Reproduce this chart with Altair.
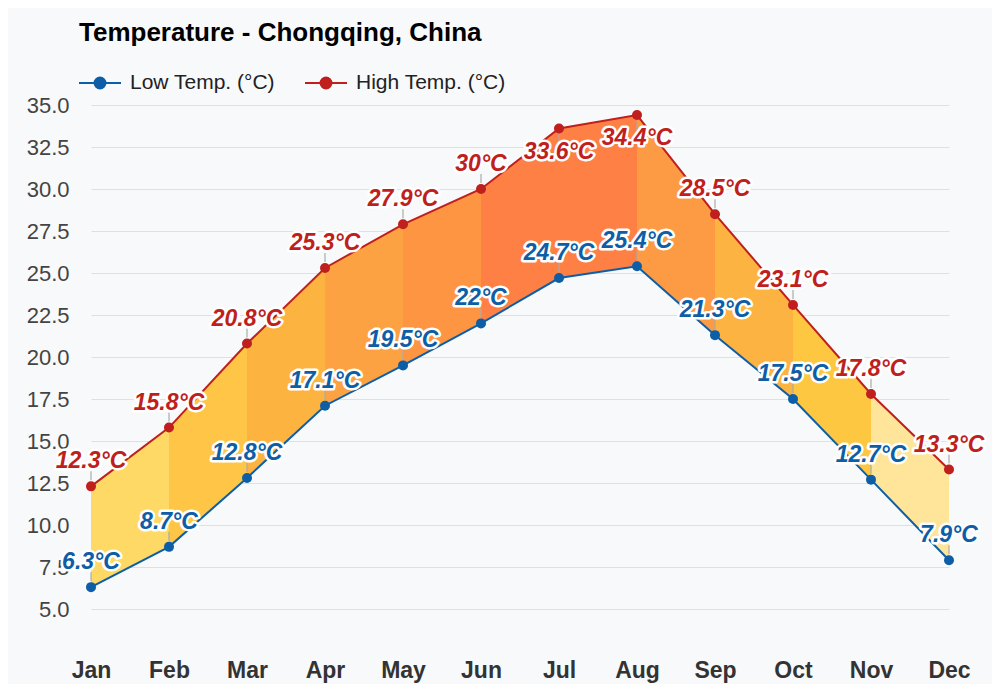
import altair as alt
import pandas as pd

months = ["Jan", "Feb", "Mar", "Apr", "May", "Jun", "Jul", "Aug", "Sep", "Oct", "Nov", "Dec"]
low_temp = [6.3, 8.7, 12.8, 17.1, 19.5, 22.0, 24.7, 25.4, 21.3, 17.5, 12.7, 7.9]
high_temp = [12.3, 15.8, 20.8, 25.3, 27.9, 30.0, 33.6, 34.4, 28.5, 23.1, 17.8, 13.3]
seg_colors = ["#ffd966", "#fec546", "#fdb340", "#fda242", "#fe9543", "#fe8045",
              "#fe8045", "#fd9a44", "#fdb341", "#fec742", "#fee59a"]
y_ticks = [5.0, 7.5, 10.0, 12.5, 15.0, 17.5, 20.0, 22.5, 25.0, 27.5, 30.0, 32.5, 35.0]

LOW_NAME = "Low Temp. (°C)"
HIGH_NAME = "High Temp. (°C)"
LOW_COLOR = "#0d5ea6"
HIGH_COLOR = "#bf1f1d"
FONT = "Liberation Sans"

# long table of both series
rows = []
for m, lo, hi in zip(months, low_temp, high_temp):
    rows.append({"month": m, "value": lo, "series": LOW_NAME, "label": f"{lo:g}°C"})
    rows.append({"month": m, "value": hi, "series": HIGH_NAME, "label": f"{hi:g}°C"})
long_df = pd.DataFrame(rows)

# segments of the band between lines
seg_rows = []
for i in range(len(months) - 1):
    for j in (i, i + 1):
        seg_rows.append({"month": months[j], "high": high_temp[j], "low": low_temp[j],
                         "seg": i, "color": seg_colors[i]})
seg_df = pd.DataFrame(seg_rows)

x_enc = alt.X("month:O", sort=months, scale=alt.Scale(type="point", padding=0),
              axis=alt.Axis(title=None, labelAngle=0, labelFontSize=23, labelFontWeight="bold",
                            labelColor="#333333", labelPadding=50, ticks=False, domain=False,
                            grid=False, labelFont=FONT))
y_scale = alt.Scale(domain=[5, 35], nice=False, zero=False)
color_scale = alt.Scale(domain=[LOW_NAME, HIGH_NAME], range=[LOW_COLOR, HIGH_COLOR])

band = alt.Chart(seg_df).mark_area(opacity=1).encode(
    x=x_enc,
    y=alt.Y("high:Q", scale=y_scale,
            axis=alt.Axis(title=None, values=y_ticks, format=".1f", labelFontSize=22,
                          labelColor="#444444", labelPadding=22, ticks=False, domain=False,
                          gridColor="#dde1e6", gridWidth=1, labelFont=FONT)),
    y2="low:Q",
    detail="seg:N",
    color=alt.Color("color:N", scale=None),
)

legend = alt.Legend(
    title=None, orient="none", direction="horizontal", legendX=-13, legendY=-44,
    symbolType="M-1,0H1M-0.26,0A0.26,0.26 0 1 1 0.26,0A0.26,0.26 0 1 1 -0.26,0Z",
    symbolSize=1764, symbolStrokeWidth=2, labelFontSize=21, labelColor="#222222",
    labelFont=FONT, labelOffset=8, columnPadding=26, symbolOpacity=1,
)

lines = alt.Chart(long_df).mark_line(strokeWidth=2).encode(
    x=x_enc,
    y=alt.Y("value:Q", scale=y_scale),
    color=alt.Color("series:N", scale=color_scale, legend=legend),
    detail="series:N",
)

points = alt.Chart(long_df).mark_circle(size=100, opacity=1).encode(
    x=x_enc,
    y=alt.Y("value:Q", scale=y_scale),
    color=alt.Color("series:N", scale=color_scale, legend=legend),
)

above = alt.datum.value <= 33
below = alt.datum.value > 33

ticks_up = alt.Chart(long_df).transform_filter(above).mark_rule(
    color="#aaaaaa", strokeWidth=1.2, yOffset=-6, y2Offset=-15).encode(
    x=x_enc, y=alt.Y("value:Q", scale=y_scale), y2="value:Q")
ticks_down = alt.Chart(long_df).transform_filter(below).mark_rule(
    color="#aaaaaa", strokeWidth=1.2, yOffset=6, y2Offset=15).encode(
    x=x_enc, y=alt.Y("value:Q", scale=y_scale), y2="value:Q")


def label_layer(cond, dy):
    base = alt.Chart(long_df).transform_filter(cond)
    halo = base.mark_text(font=FONT, fontSize=23, fontWeight="bold", fontStyle="italic",
                          dy=dy, baseline="middle", stroke="white", strokeWidth=5,
                          strokeJoin="round", fill="white").encode(
        x=x_enc, y=alt.Y("value:Q", scale=y_scale), text="label:N")
    txt = base.mark_text(font=FONT, fontSize=23, fontWeight="bold", fontStyle="italic",
                         dy=dy, baseline="middle").encode(
        x=x_enc, y=alt.Y("value:Q", scale=y_scale), text="label:N",
        color=alt.Color("series:N", scale=color_scale, legend=legend))
    return halo + txt


chart = alt.layer(
    band, lines, ticks_up, ticks_down, points,
    label_layer(above, -25), label_layer(below, 23),
).properties(
    width=858, height=504,
    autosize=alt.AutoSizeParams(type="none"),
    padding={"left": 83, "top": 97, "right": 43, "bottom": 75},
    background="#f8f9fb",
    title=alt.TitleParams("Temperature - Chongqing, China", anchor="start", frame="group",
                          fontSize=26, fontWeight="bold", color="#000000", font=FONT,
                          dx=-12, offset=15),
).configure_view(stroke=None)

chart.save("out.html", embed_options={"renderer": "svg", "actions": False})
